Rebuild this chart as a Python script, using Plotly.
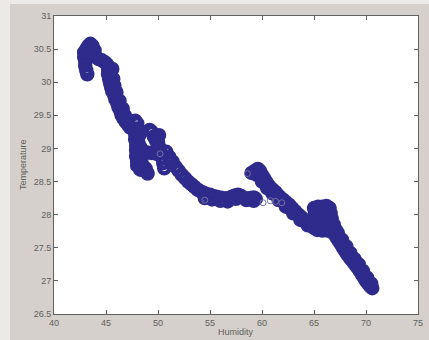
import plotly.graph_objects as go

# Main dense band of observations (Humidity, Temperature)
humidity = [
    43.5, 43.3, 43.7, 43.1, 43.5, 43.9, 42.9, 43.3, 43.7, 42.9, 43.3, 44.0, 43.0, 44.3, 43.0, 44.6, 43.1, 43.2, 44.9, 45.1,
    45.2, 45.2, 45.3, 45.4, 45.5, 45.6, 45.8, 45.9, 46.1, 46.2, 46.4, 46.5, 46.7, 46.9, 47.1, 47.3, 47.5,
    45.6, 45.7, 45.8, 46.0, 46.3, 46.6, 46.8,
    47.8, 48.0, 47.7, 48.1, 47.8, 48.2, 47.8, 48.1, 47.9, 48.3, 47.9, 48.2, 47.9, 48.3, 48.0, 48.4, 48.0, 48.5, 48.3, 48.8, 48.9, 49.0,
    48.6, 49.0, 49.4, 49.8,
    49.2, 49.4, 49.6, 49.8, 50.0, 49.9, 50.2, 50.3, 50.4, 50.5, 50.6, 50.0, 50.1,
    50.8, 51.1, 51.4, 51.7, 52.0, 52.3, 52.6, 52.9, 53.2, 53.5, 53.8, 54.1, 54.4, 54.7, 55.0, 55.3, 55.6, 55.9, 56.2, 56.5,
    56.8, 57.1, 57.4, 57.7, 58.0, 58.3, 58.6, 58.9, 59.2, 59.4,
    54.5, 55.2, 56.0, 56.7, 57.5, 58.5, 59.2,
    59.0, 59.3, 59.6, 59.8, 59.5, 60.0, 60.2, 60.4, 60.6, 60.8, 61.0, 61.3, 61.5, 61.7, 62.0, 62.3, 62.6, 62.9, 63.2, 63.5,
    63.8, 64.1, 64.4, 64.7, 65.0, 65.3,
    60.0, 60.5, 61.0, 61.6, 62.3, 63.0, 63.7, 64.4,
    65.0, 65.4, 65.8, 66.2, 66.5, 65.1, 65.5, 65.9, 66.3, 66.6, 65.2, 65.6, 66.0, 66.4, 66.7,
    65.4, 65.8, 66.2, 66.6, 66.9, 65.6, 66.0, 66.4, 66.8, 67.1, 65.8, 66.3, 66.8,
    67.0, 67.2, 67.4, 67.6, 67.8, 68.0, 68.2, 68.4, 68.6, 68.8, 69.0, 69.2, 69.4, 69.6, 69.8, 70.0, 70.2, 70.4, 70.6,
    67.3, 67.7, 68.1, 68.5, 68.9, 69.3, 69.7, 70.1, 70.5,
]
temperature = [
    30.58, 30.55, 30.55, 30.50, 30.50, 30.48, 30.45, 30.45, 30.42, 30.38, 30.38, 30.38, 30.32, 30.35, 30.25, 30.33, 30.18, 30.12, 30.30, 30.27,
    30.20, 30.12, 30.05, 29.98, 29.92, 29.86, 29.80, 29.74, 29.68, 29.62, 29.56, 29.50, 29.45, 29.40, 29.36, 29.32, 29.30,
    30.20, 30.05, 29.95, 29.85, 29.72, 29.60, 29.50,
    29.42, 29.38, 29.30, 29.30, 29.22, 29.20, 29.14, 29.10, 29.05, 29.02, 28.97, 28.95, 28.88, 28.87, 28.80, 28.80, 28.74, 28.72, 28.68, 28.70, 28.65, 28.62,
    28.92, 28.94, 28.93, 28.92,
    29.28, 29.25, 29.18, 29.12, 29.06, 29.16, 29.00, 28.93, 28.86, 28.78, 28.70, 29.10, 29.20,
    28.95, 28.87, 28.80, 28.72, 28.66, 28.60, 28.55, 28.50, 28.46, 28.42, 28.38, 28.35, 28.33, 28.31, 28.30, 28.28, 28.27, 28.26, 28.25, 28.24,
    28.25, 28.27, 28.29, 28.30, 28.28, 28.25, 28.24, 28.25, 28.26, 28.24,
    28.25, 28.23, 28.21, 28.20, 28.24, 28.22, 28.21,
    28.63, 28.66, 28.69, 28.66, 28.60, 28.60, 28.55, 28.50, 28.45, 28.41, 28.38, 28.34, 28.30, 28.27, 28.23, 28.19, 28.15, 28.10, 28.05, 28.00,
    27.96, 27.92, 27.88, 27.84, 27.80, 27.77,
    28.50, 28.40, 28.32, 28.22, 28.12, 28.02, 27.92, 27.84,
    28.10, 28.12, 28.12, 28.13, 28.10, 28.03, 28.05, 28.05, 28.05, 28.02, 27.96, 27.98, 27.98, 27.97, 27.94,
    27.90, 27.90, 27.90, 27.88, 27.85, 27.82, 27.83, 27.82, 27.80, 27.77, 27.76, 27.76, 27.73,
    27.70, 27.65, 27.60, 27.55, 27.50, 27.45, 27.40, 27.36, 27.32, 27.28, 27.24, 27.20, 27.15, 27.10, 27.05, 27.00, 26.96, 26.92, 26.89,
    27.72, 27.62, 27.52, 27.42, 27.33, 27.25, 27.15, 27.05, 26.96,
]

# Sparse isolated observations
sparse_humidity = [54.5, 58.6, 60.1, 60.8, 61.3, 61.9, 50.2]
sparse_temperature = [28.22, 28.62, 28.18, 28.21, 28.20, 28.18, 28.92]

x_ticks = [40, 45, 50, 55, 60, 65, 70, 75]
y_ticks = [26.5, 27, 27.5, 28, 28.5, 29, 29.5, 30, 30.5, 31]

MARK = "#2f2b8c"
AX = "#606060"
FONT = "Liberation Sans, Arial, sans-serif"

fig = go.Figure()
fig.add_trace(go.Scatter(
    x=humidity, y=temperature, mode="markers",
    marker=dict(symbol="circle-open", size=10, color=MARK, line=dict(width=4.5, color=MARK)),
    showlegend=False, hoverinfo="skip",
))
fig.add_trace(go.Scatter(
    x=sparse_humidity, y=sparse_temperature, mode="markers",
    marker=dict(symbol="circle-open", size=6, color="#7472a8", line=dict(width=1, color="#7472a8")),
    showlegend=False, hoverinfo="skip",
))

axis_common = dict(
    showgrid=False, zeroline=False, showline=True, linecolor=AX, linewidth=1,
    mirror="ticks", ticks="inside", ticklen=4, tickcolor=AX, automargin=False,
    tickfont=dict(family=FONT, size=9, color=AX),
)
fig.update_xaxes(range=[40, 75], tickvals=x_ticks, ticktext=[str(v) for v in x_ticks],
                 ticklabelstandoff=0, **axis_common)
fig.update_yaxes(range=[26.5, 31], tickvals=y_ticks, ticktext=[f"{v:g}" for v in y_ticks],
                 **axis_common)

PW, PH = 364, 298
fig.add_annotation(text="Humidity", xref="paper", yref="paper", x=0.5, y=-(332 - 314) / PH,
                   xanchor="center", yanchor="middle", showarrow=False,
                   font=dict(family=FONT, size=9, color=AX))
fig.add_annotation(text="Temperature", xref="paper", yref="paper", x=-(54 - 23) / PW, y=0.5,
                   xanchor="center", yanchor="middle", textangle=-90, showarrow=False,
                   font=dict(family=FONT, size=9, color=AX))

# light frame strips of the original screenshot
fig.add_shape(type="rect", xref="paper", yref="paper", x0=-54/PW, x1=-44/PW, y0=-26/PH, y1=1 + 16/PH,
              fillcolor="#eceae7", line_width=0, layer="below")
fig.add_shape(type="rect", xref="paper", yref="paper", x0=-54/PW, x1=1 + 11/PW, y0=1 + 12/PH, y1=1 + 16/PH,
              fillcolor="#eceae7", line_width=0, layer="below")

fig.update_layout(
    width=429, height=340,
    margin=dict(l=54, r=11, t=16, b=26),
    paper_bgcolor="#d5d0cb", plot_bgcolor="#ffffff",
    font=dict(family=FONT, size=9, color=AX),
)

fig.write_html("out.html")
